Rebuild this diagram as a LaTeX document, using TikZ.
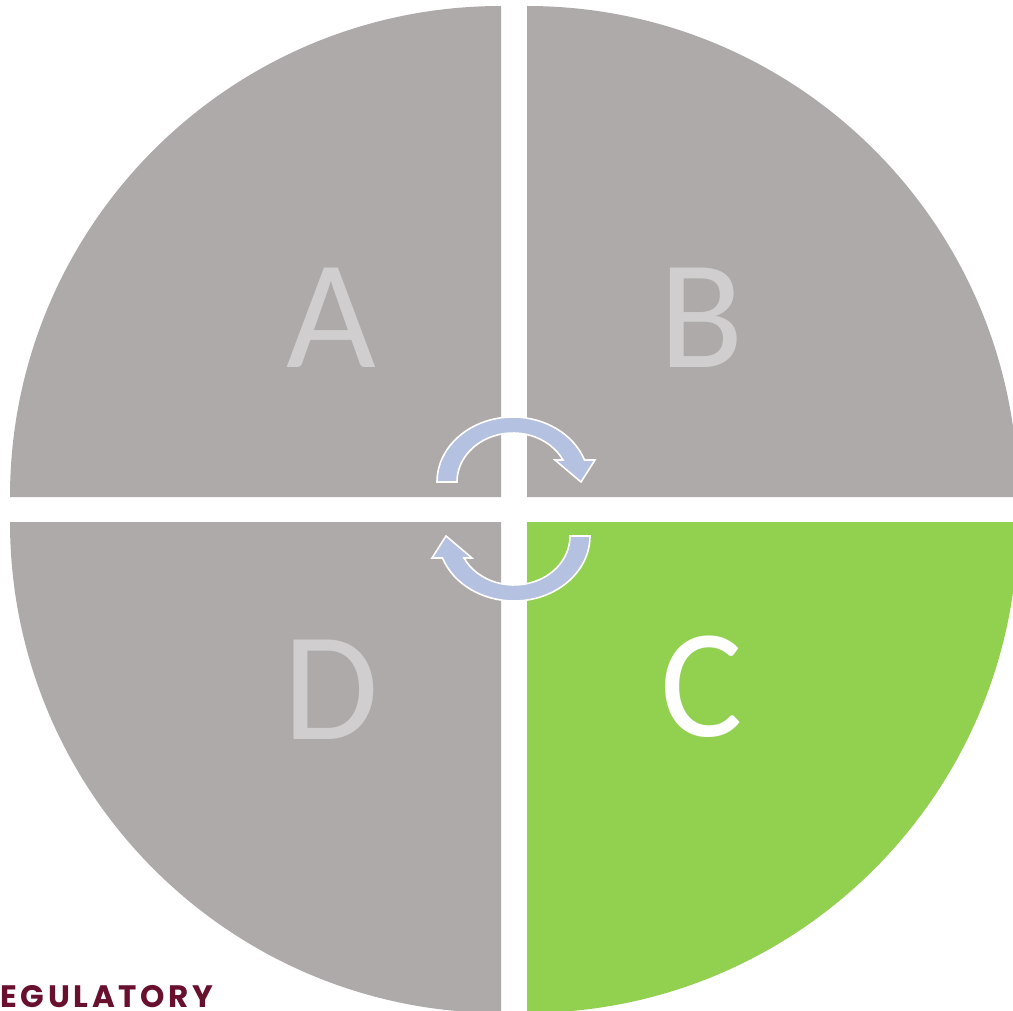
\documentclass[tikz,border=0pt]{standalone}
\usepackage{fontspec}
\setmainfont{Carlito}
\newfontfamily\regfont[LetterSpace=12]{Poppins}
\definecolor{quadgray}{RGB}{174,170,169}
\definecolor{quadgreen}{RGB}{146,208,80}
\definecolor{arrowblue}{RGB}{180,193,225}
\definecolor{lettergray}{RGB}{208,206,206}
\definecolor{regmaroon}{RGB}{104,16,44}
\begin{document}
\begin{tikzpicture}[x=1pt,y=1pt,
  quad/.style={fill=quadgray},
  quadc/.style={fill=quadgreen},
  cyclearrow/.style={fill=arrowblue,draw=white,line width=1.6pt,line join=miter},
  letter/.style={anchor=base,inner sep=0pt,text=lettergray,font=\fontsize{155}{155}\selectfont},
  reglabel/.style={anchor=base west,inner sep=0pt,text=regmaroon,font=\fontsize{31}{31}\selectfont\regfont\bfseries}]
\useasboundingbox (0,0) rectangle (1013,-1011);
\begin{scope}
\clip (0,0) rectangle (1013,-1011);
\fill[quad] (501,-497) -- (10,-497) arc[start angle=180,end angle=90,radius=491pt] -- cycle;
\fill[quad] (527,-497) -- (527,-6) arc[start angle=90,end angle=0,radius=491pt] -- cycle;
\fill[quadc] (527,-522) -- (1018,-522) arc[start angle=0,end angle=-90,radius=491pt] -- cycle;
\fill[quad] (501,-522) -- (501,-1013) arc[start angle=-90,end angle=-180,radius=491pt] -- cycle;
\draw[cyclearrow] (437,-482) arc[start angle=180,end angle=19.8,x radius=76pt,y radius=65pt]
  -- (595,-460) -- (581,-482) -- (555,-460) -- (563,-460)
  arc[start angle=26.7,end angle=180,x radius=56pt,y radius=49pt] -- cycle;
\begin{scope}[rotate around={180:(513.5,-509)}]
\draw[cyclearrow] (437,-482) arc[start angle=180,end angle=19.8,x radius=76pt,y radius=65pt]
  -- (595,-460) -- (581,-482) -- (555,-460) -- (563,-460)
  arc[start angle=26.7,end angle=180,x radius=56pt,y radius=49pt] -- cycle;
\end{scope}
\node[letter] (A) at (331,-367) {A};
\node[letter] (B) at (702,-367) {B};
\node[letter,text=white] (C) at (702,-736) {C};
\node[letter] (D) at (331,-739) {D};
\node[reglabel] (reg) at (0,-1007) {EGULATORY};
\end{scope}
\end{tikzpicture}
\end{document}
